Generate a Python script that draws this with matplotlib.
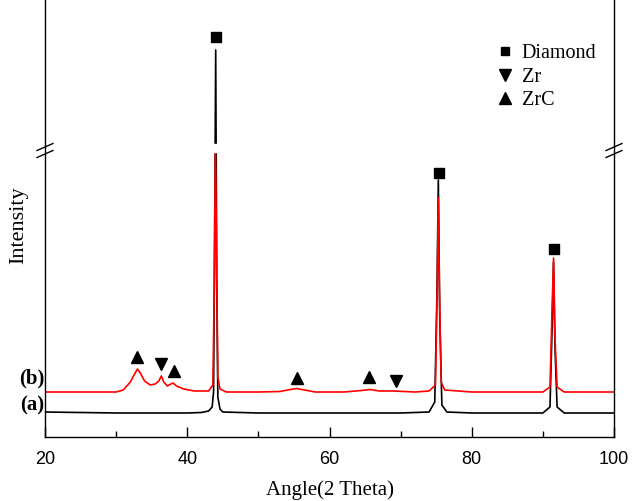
import matplotlib
matplotlib.use('Agg')
import matplotlib.pyplot as plt
import matplotlib.transforms as transforms
from matplotlib.lines import Line2D
from matplotlib.ticker import MultipleLocator

# Intensities are in arbitrary units
# (a) black pattern
A_ANGLE = [20, 30, 40, 42, 43, 43.5, 43.7, 43.85, 44.0, 44.15, 44.3, 44.6, 45, 50, 60, 70,
           74, 74.8, 75.1, 75.3, 75.5, 75.8, 76.5, 80, 90, 91.0, 91.3, 91.5, 91.7, 92.0, 93, 100]
A_INT = [25, 24, 24, 24.5, 26, 30, 45, 200, 387, 150, 40, 28, 25, 24, 24, 24,
         25, 35, 140, 257, 120, 32, 25, 24, 24, 30, 110, 175, 90, 30, 24, 24]

# (b) red pattern
B_ANGLE = [20, 30, 31, 32, 32.6, 33.0, 33.4, 34, 34.8, 35.5, 36.0, 36.35, 36.7, 37.2, 37.7, 38.0,
           38.5, 39.5, 41, 43, 43.6, 43.8, 43.95, 44.1, 44.3, 44.6, 45.5, 50, 53, 54.5, 55.4,
           56.5, 58, 62, 64.5, 65.7, 67, 69, 72, 74, 74.9, 75.15, 75.3, 75.45, 75.7, 76.2,
           80, 90, 91.0, 91.3, 91.5, 91.7, 92.0, 93, 100]
B_INT = [45, 45, 47, 55, 63, 68, 64, 56, 52, 53, 56, 61, 55, 51, 53, 54,
         51, 48, 46, 46, 52, 150, 292, 200, 60, 48, 45, 45, 45.5, 47.5, 48.5,
         47, 45, 45, 46.5, 47.5, 46, 46, 45, 46, 52, 150, 239, 150, 55, 47,
         45, 45, 50, 130, 179, 100, 50, 45, 45]

# phase markers
DIAMOND = [(44.0, 400), (75.4, 264), (91.5, 188)]
ZR = [(36.3, 73), (69.3, 56)]
ZRC = [(33.0, 80), (38.2, 66), (55.5, 59), (65.6, 60)]

BREAK = (285, 293)

fig = plt.figure(figsize=(6.32, 5.01), dpi=100)
ax = fig.add_axes([45 / 632, 64 / 501, 569 / 632, 437 / 501])

ax.plot(A_ANGLE, A_INT, color='black', linewidth=1.2, zorder=2)
ax.plot(B_ANGLE, B_INT, color='red', linewidth=1.2, zorder=2)

ax.axhspan(BREAK[0], BREAK[1], color='white', zorder=3)

for x, y in DIAMOND:
    ax.plot(x, y, 's', color='black', markersize=7, zorder=5)
for x, y in ZR:
    ax.plot(x, y, 'v', color='black', markersize=9, zorder=5)
for x, y in ZRC:
    ax.plot(x, y, '^', color='black', markersize=9, zorder=5)

ax.set_xlim(20, 100)
ax.set_ylim(0, 437)

for s in ['left', 'right', 'bottom']:
    ax.spines[s].set_zorder(4)
    ax.spines[s].set_linewidth(1.0)
ax.spines['top'].set_visible(False)

# break marks on both side spines
trans = transforms.blended_transform_factory(ax.transAxes, ax.transData)
for xs in [0, 1]:
    for yc in [BREAK[0] + 5, BREAK[0] - 2]:
        ax.plot([xs - 0.014, xs + 0.014], [yc - 3.5, yc + 3.5], color='black',
                linewidth=1.0, transform=trans, clip_on=False, zorder=6)

ax.xaxis.set_major_locator(MultipleLocator(20))
ax.xaxis.set_minor_locator(MultipleLocator(10))
ax.tick_params(axis='x', which='major', direction='in', length=7, width=1, pad=10,
               labelsize=13, labelfontfamily='Liberation Sans')
ax.tick_params(axis='x', which='minor', direction='in', length=4, width=1)
ax.set_yticks([])

ax.set_xlabel('Angle(2 Theta)', fontsize=15, family='Liberation Serif', labelpad=9)
ax.set_ylabel('Intensity', fontsize=16, family='Liberation Serif')
ax.yaxis.set_label_coords(-0.03, 0.485)

ax.text(18.2, 59, '(b)', fontsize=15, weight='bold', family='Liberation Serif',
        ha='center', va='center', clip_on=False)
ax.text(18.2, 32, '(a)', fontsize=15, weight='bold', family='Liberation Serif',
        ha='center', va='center', clip_on=False)

handles = [Line2D([], [], marker='s', color='black', linestyle='none', markersize=6),
           Line2D([], [], marker='v', color='black', linestyle='none', markersize=8),
           Line2D([], [], marker='^', color='black', linestyle='none', markersize=8)]
ax.legend(handles, ['Diamond', 'Zr', 'ZrC'], loc='upper left', bbox_to_anchor=(0.762, 0.94),
          frameon=False, handlelength=0.8, handletextpad=0.45, labelspacing=0.2,
          prop={'family': 'Liberation Serif', 'size': 14.5})

plt.savefig('out.png', dpi=100)
